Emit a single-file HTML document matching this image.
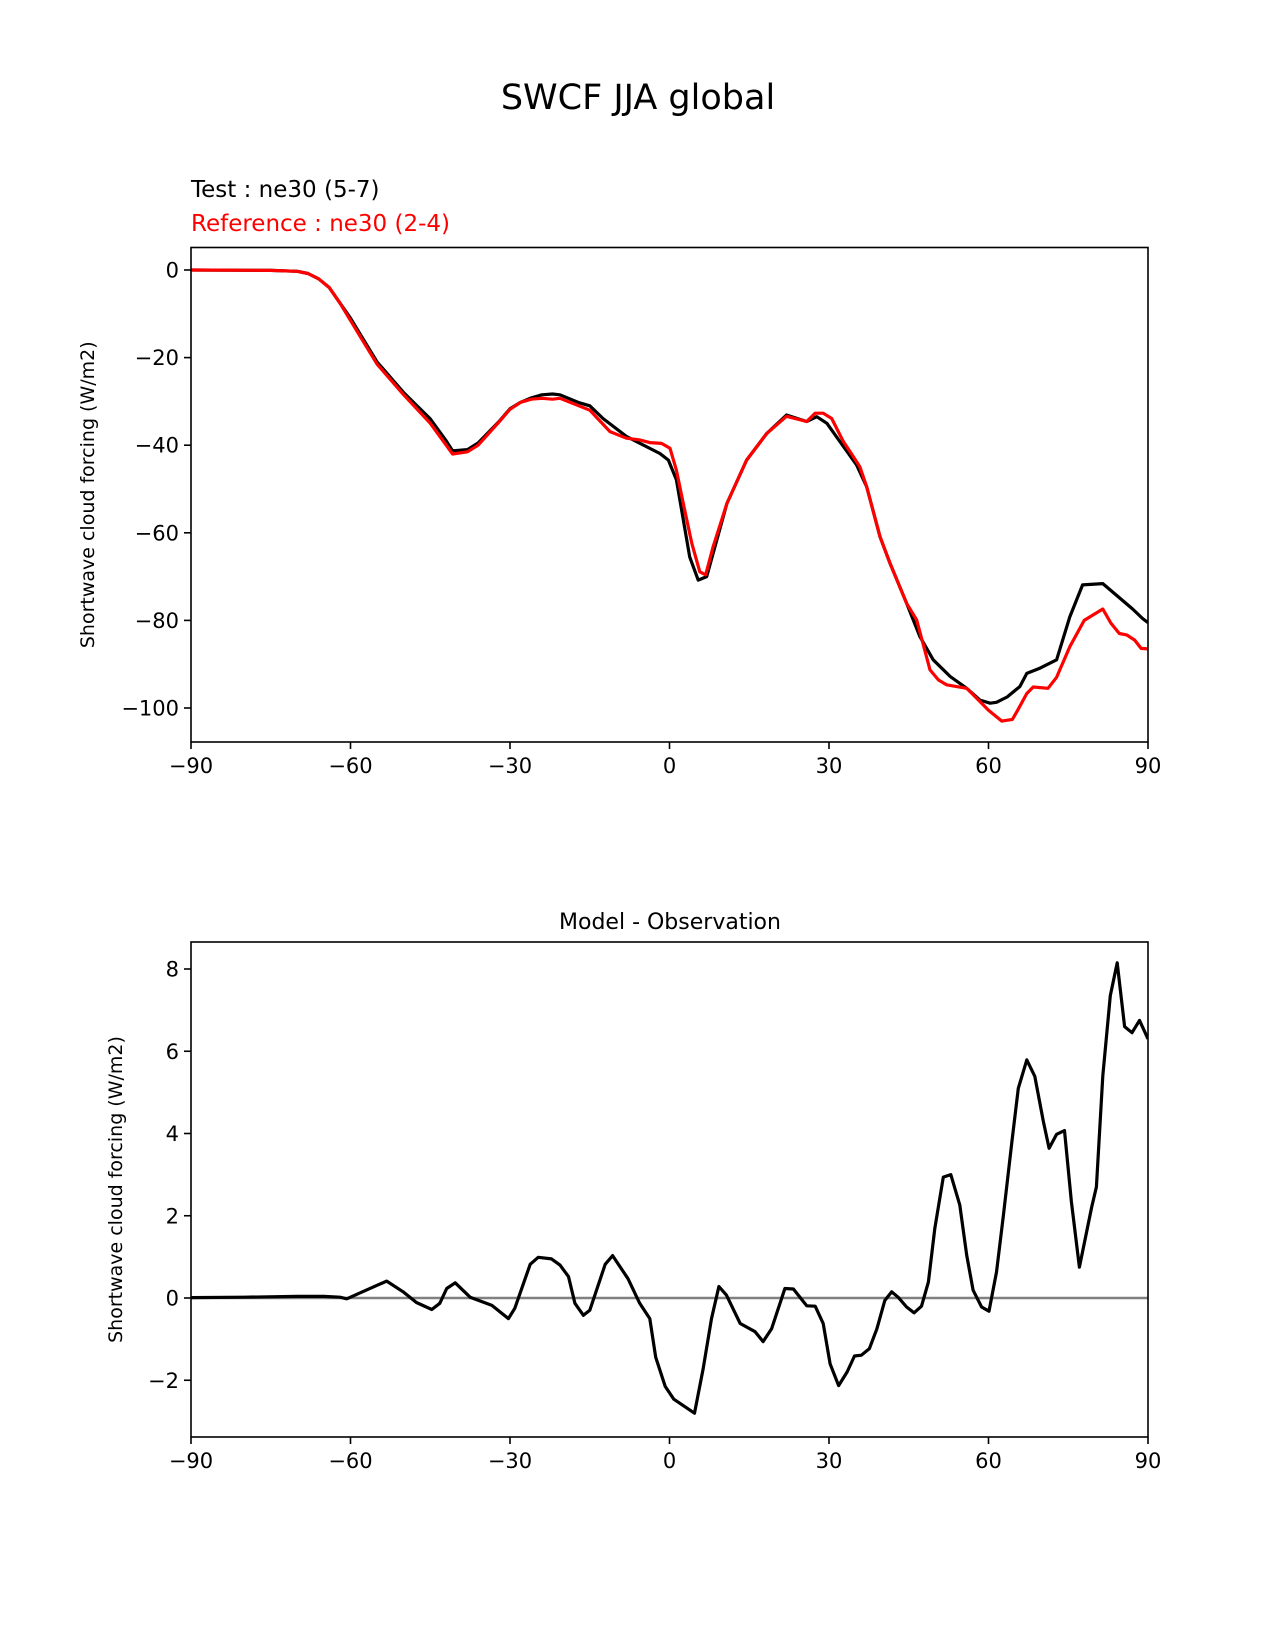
<!DOCTYPE html>
<html><head><meta charset="utf-8"><style>
body{margin:0;background:#fff}
svg{display:block;font-family:"DejaVu Sans","Liberation Sans",sans-serif}
</style></head><body>
<svg id="fig" width="1275" height="1650" viewBox="0 0 1275 1650">
<rect width="1275" height="1650" fill="#fff"/>
<text x="638" y="109" text-anchor="middle" font-size="35">SWCF JJA global</text>
<text x="191" y="197" font-size="23" fill="#000">Test : ne30 (5-7)</text>
<text x="191" y="231" font-size="23" fill="#f00">Reference : ne30 (2-4)</text>
<text x="670" y="929" text-anchor="middle" font-size="22">Model - Observation</text>
<g id="top"></g>
<g id="bot"></g>
</svg>
<script>
// Top chart data
const topTestLat = [-90,-75,-70,-68,-66,-64,-62,-60,-58,-55,-50,-45,-42,-40.8,-38,-36,-34,-32,-30,-28,-26,-24,-22,-20.6,-17,-15,-12.5,-8.1,-1.8,-0.2,1.3,3.8,5.4,7.0,10.8,14.5,18.3,22.0,25.8,27.7,29.6,32.7,35.2,37.1,39.6,41.5,44.6,47.1,49.6,52.8,55.9,58.4,60.3,61.5,63.5,65.9,67.2,69.7,72.8,75.3,77.7,81.5,84.1,87.1,89,90];
const topTestVal = [0,-0.1,-0.3,-0.8,-2,-4,-7.5,-11,-15,-21,-28,-34,-39,-41.3,-41,-39.5,-37,-34.5,-31.7,-30.2,-29.2,-28.5,-28.3,-28.5,-30.3,-31,-33.9,-38,-41.9,-43.4,-47.9,-65.5,-70.8,-70,-53.3,-43.4,-37.3,-33.1,-34.6,-33.5,-35,-40.3,-44.5,-49.5,-60.9,-67,-76.1,-83.7,-89,-92.8,-95.5,-98.2,-98.9,-98.7,-97.5,-95.1,-92.1,-90.9,-89,-79.2,-71.9,-71.6,-74.3,-77.4,-79.6,-80.5];
const topRefLat = [-90,-75,-70,-68,-66,-64,-62,-60,-58,-55,-50,-45,-42,-40.8,-38,-36,-34,-32,-30,-28,-26,-24,-22,-20.6,-15,-11.2,-8.1,-5.6,-3.7,-1.5,0.1,1.3,2.6,4.2,5.7,6.8,8.2,10.8,14.5,18.3,22.0,25.8,27.4,28.9,30.5,32.7,34.2,35.8,37.1,39.6,41.5,44.6,46.5,49,50.6,52.1,55.9,57.8,60,62.5,64.5,65.5,67.2,68.4,71.2,72.8,75.3,78,81.5,83,84.6,86,87.5,88.7,90];
const topRefVal = [0,-0.1,-0.3,-0.8,-2,-4,-7.5,-11.5,-15.5,-21.5,-28.5,-35,-40,-42,-41.5,-40,-37.3,-34.6,-31.8,-30.2,-29.5,-29.3,-29.5,-29.3,-32,-36.9,-38.4,-38.8,-39.4,-39.6,-40.7,-45.7,-53.3,-62.4,-68.9,-69.6,-63.2,-53.3,-43.4,-37.3,-33.4,-34.6,-32.7,-32.7,-33.9,-39.2,-41.9,-44.9,-49.5,-60.9,-67,-76.1,-79.9,-91.3,-93.6,-94.7,-95.5,-97.8,-100.5,-103,-102.6,-100.5,-96.7,-95.2,-95.5,-93,-86,-80,-77.4,-80.6,-83,-83.3,-84.5,-86.4,-86.5];
// Bottom chart data
const diffLat = [-90,-80,-70,-65,-62,-60.7,-57.6,-53.2,-50.1,-47.6,-44.7,-43.2,-41.9,-40.3,-37.5,-33.4,-30.3,-29.1,-26.2,-24.7,-22.2,-20.6,-19.0,-17.8,-16.2,-15.0,-12.1,-10.7,-7.8,-5.6,-3.7,-2.6,-0.8,0.8,4.7,6.3,7.9,9.3,10.7,13.3,16.1,17.6,19.2,21.7,23.3,25.8,27.4,28.9,30.2,31.8,33.4,34.8,36.1,37.6,39,40.5,41.8,43.0,44.6,46.0,47.4,48.7,49.9,51.5,52.9,54.6,55.9,57.1,58.7,60.1,61.5,62.8,64.4,65.6,67.2,68.7,70.3,71.4,72.8,74.3,75.6,77.1,79.4,80.3,81.5,82.9,84.2,85.6,87,88.4,90];
const diffVal = [0.01,0.02,0.04,0.04,0.02,-0.02,0.16,0.41,0.15,-0.11,-0.28,-0.13,0.23,0.37,0.02,-0.18,-0.5,-0.25,0.82,0.99,0.95,0.8,0.52,-0.13,-0.42,-0.3,0.82,1.03,0.47,-0.13,-0.5,-1.44,-2.15,-2.46,-2.8,-1.74,-0.5,0.28,0.07,-0.62,-0.82,-1.06,-0.75,0.23,0.22,-0.19,-0.2,-0.62,-1.6,-2.13,-1.8,-1.41,-1.39,-1.23,-0.75,-0.06,0.15,0.02,-0.22,-0.36,-0.2,0.39,1.69,2.94,3.0,2.26,1.04,0.19,-0.22,-0.32,0.63,2.01,3.8,5.1,5.79,5.39,4.3,3.64,3.98,4.07,2.34,0.75,2.2,2.7,5.4,7.35,8.15,6.6,6.45,6.75,6.3];
const xTicks = [-90,-60,-30,0,30,60,90];
const topYTicks = [0,-20,-40,-60,-80,-100];
const botYTicks = [-2,0,2,4,6,8];

const NS="http://www.w3.org/2000/svg";
function mk(tag,attrs,parent){const e=document.createElementNS(NS,tag);for(const k in attrs)e.setAttribute(k,attrs[k]);parent.appendChild(e);return e;}
const L=191,R=1148;
function xs(v){return L+(v+90)/180*(R-L);}
function drawAxes(g,top,bot,ys,yticks,ylabel,ylx,name){
  const cy=(top+bot)/2;
  xTicks.forEach(t=>{
    const x=xs(t);
    const tk=mk('line',{x1:x,x2:x,y1:bot,y2:bot+7,stroke:'#000','stroke-width':1.6},g);
    
    
    const tx=mk('text',{x:x,y:bot+31,'text-anchor':'middle','font-size':21},g);
    tx.textContent=(t<0?'\u2212'+(-t):t);
    
    
  });
  yticks.forEach(t=>{
    const y=ys(t);
    const tk=mk('line',{x1:L-7,x2:L,y1:y,y2:y,stroke:'#000','stroke-width':1.6},g);
    
    
    const tx=mk('text',{x:L-12,y:y+7.5,'text-anchor':'end','font-size':21},g);
    tx.textContent=(t<0?'\u2212'+(-t):t);
    
    
  });
  const yl=mk('text',{x:ylx,y:cy,'text-anchor':'middle','font-size':19,transform:`rotate(-90 ${ylx} ${cy})`},g);
  yl.textContent=ylabel;
  
  
}
function line(g,lat,val,ys,color,w,name){
  const d=lat.map((la,i)=>(i?'L':'M')+xs(la).toFixed(1)+' '+ys(val[i]).toFixed(1)).join(' ');
  const p=mk('path',{d:d,fill:'none',stroke:color,'stroke-width':w,'stroke-linejoin':'round'},g);
  
  
  return p;
}
function frame(g,top,bot){
  const r=mk('rect',{x:L,y:top,width:R-L,height:bot-top,fill:'none',stroke:'#000','stroke-width':1.6},g);
  
  
}
// Top
const gt=document.getElementById('top');
const T0=247.5,T1=742;
function ysTop(v){return 270+(0-v)*4.38;}
drawAxes(gt,T0,T1,ysTop,topYTicks,'Shortwave cloud forcing (W/m2)',94);
const cp=mk('clipPath',{id:'ct'},gt);mk('rect',{x:L,y:T0,width:R-L,height:T1-T0},cp);
const gtc=mk('g',{'clip-path':'url(#ct)'},gt);
line(gtc,topTestLat,topTestVal,ysTop,'#000',3.2,'test-line');
line(gtc,topRefLat,topRefVal,ysTop,'#f00',3.2,'reference-line');
frame(gt,T0,T1);
// Bottom
const gb=document.getElementById('bot');
const B0=942,B1=1437;
function ysBot(v){return 1298-v*41.125;}
drawAxes(gb,B0,B1,ysBot,botYTicks,'Shortwave cloud forcing (W/m2)',122);
const cp2=mk('clipPath',{id:'cb'},gb);mk('rect',{x:L,y:B0,width:R-L,height:B1-B0},cp2);
const gbc=mk('g',{'clip-path':'url(#cb)'},gb);
const zl=mk('line',{x1:L,x2:R,y1:ysBot(0),y2:ysBot(0),stroke:'#808080','stroke-width':2.6},gbc);


line(gbc,diffLat,diffVal,ysBot,'#000',3.2,'difference-line');
frame(gb,B0,B1);
</script>
</body></html>
